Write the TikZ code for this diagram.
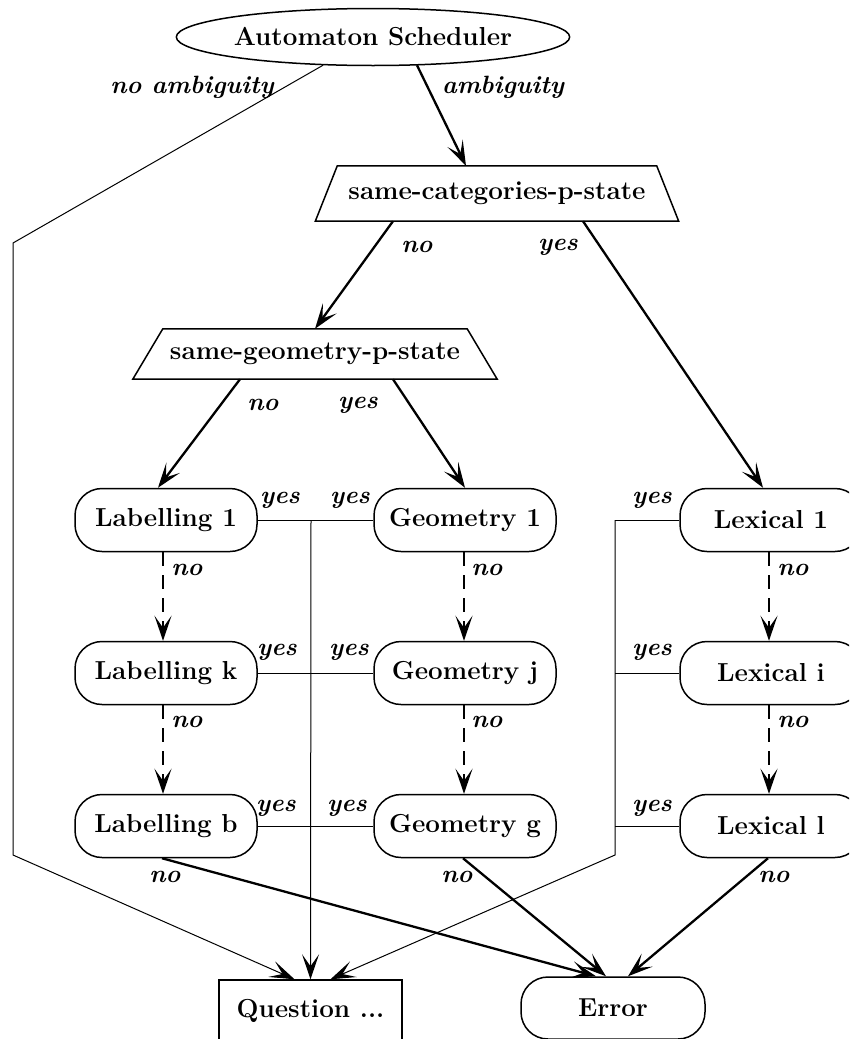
\documentclass[tikz,border=0pt]{standalone}
\usepackage{fontspec}
\usetikzlibrary{shapes.geometric,arrows.meta,calc}
\begin{document}
\begin{tikzpicture}[x=1pt,y=-1pt,
  nodefont/.style={font=\fontsize{26}{30}\selectfont\bfseries},
  lbl/.style={font=\fontsize{25}{29}\selectfont\bfseries\itshape, inner sep=0pt},
  frame/.style={line width=1.5pt},
  state/.style={nodefont, draw, frame, rounded corners=27pt, minimum width=182pt, minimum height=63pt, inner sep=0pt},
  test/.style={nodefont, inner sep=0pt},
  tip/.style={-{Stealth[length=25pt,width=17pt,inset=12pt]}},
  heavy/.style={line width=2.3pt, tip},
  light/.style={line width=1pt},
  lightarrow/.style={light, tip},
  dasharrow/.style={line width=2pt, dash pattern=on 14pt off 9pt, tip},
]
\useasboundingbox (0,0) rectangle (849,1039);
\fill[white] (0,0) rectangle (849,1039);
\clip (0,0) rectangle (849,1039);

% scheduler and the two tests
\node[nodefont, draw, frame, ellipse, minimum width=334pt, minimum height=57pt, inner sep=0pt] (sched) at (373,37) {Automaton Scheduler};

\node[test, minimum width=363pt, minimum height=55pt] (t1) at (497,193.5) {same-categories-p-state};
\draw[frame] (t1.south west) -- (t1.south east) -- ([xshift=-22pt]t1.north east) -- ([xshift=22pt]t1.north west) -- cycle;

\node[test, minimum width=364pt, minimum height=50pt] (t2) at (315,354) {same-geometry-p-state};
\draw[frame] (t2.south west) -- (t2.south east) -- ([xshift=-30pt]t2.north east) -- ([xshift=30pt]t2.north west) -- cycle;

% automata
\node[state] (lab1) at (166,520) {Labelling 1};
\node[state] (labk) at (166,673) {Labelling k};
\node[state] (labb) at (166,826) {Labelling b};
\node[state] (geo1) at (465,520) {Geometry 1};
\node[state] (geoj) at (465,673) {Geometry j};
\node[state] (geog) at (465,826) {Geometry g};
\node[state] (lex1) at (771,520) {Lexical 1};
\node[state] (lexi) at (771,673) {Lexical i};
\node[state] (lexl) at (771,826) {Lexical l};

% outcomes
\node[nodefont, draw, frame, minimum width=183pt, minimum height=62pt, inner sep=0pt] (q) at (310.5,1011) {Question ...};
\node[state, minimum width=184pt, minimum height=62pt] (err) at (613,1008) {Error};

% routing points
\coordinate (c1) at (13,243);
\coordinate (c2) at (13,855);
\coordinate (rtop) at (615,520);
\coordinate (rbot) at (615,855);
\coordinate (mtop) at (311,520);

% scheduler branches
\draw[lightarrow] ($(sched.south)+(-50,-1)$) -- (c1) -- (c2) -- ($(q.north)+(-16,0)$);
\draw[heavy] ($(sched.south)+(44,-1)$) -- ($(t1.north)+(-31,0)$);
\node[lbl] at (192,87) {no ambiguity};
\node[lbl] at (503,87) {ambiguity};

% first test
\draw[heavy] ($(t1.south)+(-104,0)$) -- (t2.north);
\draw[heavy] ($(t1.south)+(86,0)$) -- ($(lex1.north)+(-8,0)$);
\node[lbl] at (417,247) {no};
\node[lbl] at (558,247) {yes};

% second test
\draw[heavy] ($(t2.south)+(-75,0)$) -- ($(lab1.north)+(-8,0)$);
\draw[heavy] ($(t2.south)+(78,0)$) -- (geo1.north);
\node[lbl] at (263,405) {no};
\node[lbl] at (358,405) {yes};

% chains of automata
\draw[dasharrow] ($(lab1.south)+(-3,0)$) -- ($(labk.north)+(-3,0)$);
\draw[dasharrow] ($(labk.south)+(-3,0)$) -- ($(labb.north)+(-3,0)$);
\draw[dasharrow] ($(geo1.south)+(-1,0)$) -- ($(geoj.north)+(-1,0)$);
\draw[dasharrow] ($(geoj.south)+(-1,0)$) -- ($(geog.north)+(-1,0)$);
\draw[dasharrow] ($(lex1.south)+(-2,0)$) -- ($(lexi.north)+(-2,0)$);
\draw[dasharrow] ($(lexi.south)+(-2,0)$) -- ($(lexl.north)+(-2,0)$);
\foreach \x/\y in {187/570,487/570,793/570,187/722,487/722,793/722}
  \node[lbl] at (\x,\y) {no};

% "yes" exits towards the question
\draw[light] (lab1.east) -- (geo1.west);
\draw[light] (labk.east) -- (geoj.west);
\draw[light] (labb.east) -- (geog.west);
\draw[lightarrow] (mtop) -- (q.north);
\draw[light] (rtop) -- (lex1.west);
\draw[light] (rtop |- lexi.west) -- (lexi.west);
\draw[light] (rtop |- lexl.west) -- (lexl.west);
\draw[lightarrow] (rtop) -- (rbot) -- ($(q.north)+(20,0)$);
\foreach \x/\y in {280/500,350/500,652/500,277/652,349/652,652/652,276/808,347/808,652/808}
  \node[lbl] at (\x,\y) {yes};

% final failures
\draw[heavy] ($(labb.south)+(-4,0)$) -- ($(err.north)+(-17,0)$);
\draw[heavy] ($(geog.south)+(-2,0)$) -- ($(err.north)+(-7,0)$);
\draw[heavy] ($(lexl.south)+(-3,0)$) -- ($(err.north)+(15,0)$);
\node[lbl] at (165,877) {no};
\node[lbl] at (457,877) {no};
\node[lbl] at (774,877) {no};
\end{tikzpicture}
\end{document}
